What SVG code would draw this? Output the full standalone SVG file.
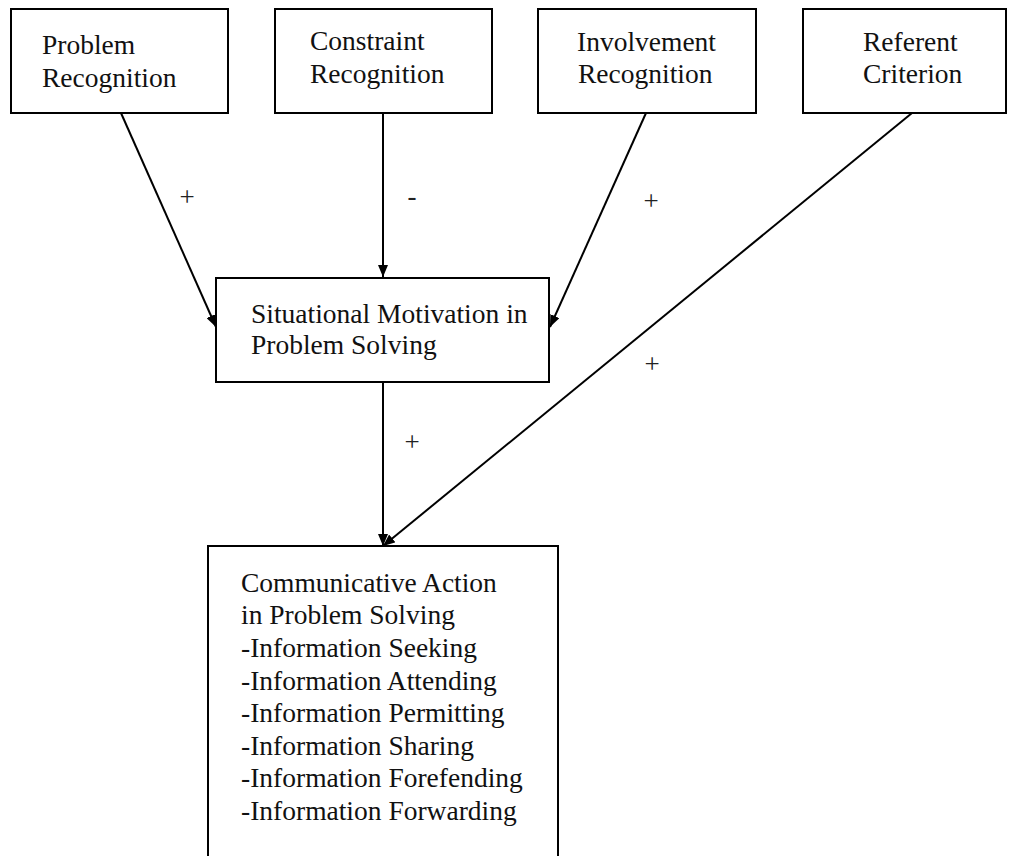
<svg xmlns="http://www.w3.org/2000/svg" width="1009" height="856" viewBox="0 0 1009 856">
<style>
.box{fill:#fff;stroke:#000;stroke-width:2}
.t{font-family:"Liberation Serif","Times New Roman",serif;font-size:27.5px;fill:#111}
.lbl{font-family:"Liberation Serif","Times New Roman",serif;font-size:27px;fill:#222;text-anchor:middle}
.ln{stroke:#000;stroke-width:2;fill:none;marker-end:url(#ah)}
</style>
<defs>
<marker id="ah" viewBox="0 0 12 10" refX="12" refY="5" markerWidth="12" markerHeight="10" markerUnits="userSpaceOnUse" orient="auto">
<path d="M0,0 L12,5 L0,10 Z" fill="#000"/>
</marker>
</defs>
<g id="connectors">
<line class="ln" x1="121" y1="113" x2="216" y2="327"/>
<line class="ln" x1="383" y1="113" x2="383" y2="277"/>
<line class="ln" x1="646" y1="113" x2="550" y2="327"/>
<line class="ln" x1="912" y1="113" x2="383" y2="546"/>
<line class="ln" x1="383" y1="382" x2="383" y2="546"/>
<text class="lbl" x="187" y="206">+</text>
<text class="lbl" x="412" y="205">-</text>
<text class="lbl" x="651" y="210">+</text>
<text class="lbl" x="652" y="373">+</text>
<text class="lbl" x="412" y="451">+</text>
</g>
<g id="problem">
<rect class="box" x="11" y="9" width="217" height="104"/>
<text class="t" x="42" y="54">Problem</text>
<text class="t" x="42" y="87">Recognition</text>
</g>
<g id="constraint">
<rect class="box" x="275" y="9" width="217" height="104"/>
<text class="t" x="310" y="50">Constraint</text>
<text class="t" x="310" y="83">Recognition</text>
</g>
<g id="involvement">
<rect class="box" x="538" y="9" width="218" height="104"/>
<text class="t" x="577" y="51">Involvement</text>
<text class="t" x="578" y="83">Recognition</text>
</g>
<g id="referent">
<rect class="box" x="803" y="9" width="203" height="104"/>
<text class="t" x="863" y="51">Referent</text>
<text class="t" x="863" y="83">Criterion</text>
</g>
<g id="situational">
<rect class="box" x="216" y="278" width="333" height="104"/>
<text class="t" x="251" y="323">Situational Motivation in</text>
<text class="t" x="251" y="354">Problem Solving</text>
</g>
<g id="communicative">
<rect class="box" x="208" y="546" width="350" height="320"/>
<text class="t" x="241" y="592">Communicative Action</text>
<text class="t" x="241" y="624">in Problem Solving</text>
<text class="t" x="241" y="657">-Information Seeking</text>
<text class="t" x="241" y="690">-Information Attending</text>
<text class="t" x="241" y="722">-Information Permitting</text>
<text class="t" x="241" y="755">-Information Sharing</text>
<text class="t" x="241" y="787">-Information Forefending</text>
<text class="t" x="241" y="820">-Information Forwarding</text>
</g>
</svg>
